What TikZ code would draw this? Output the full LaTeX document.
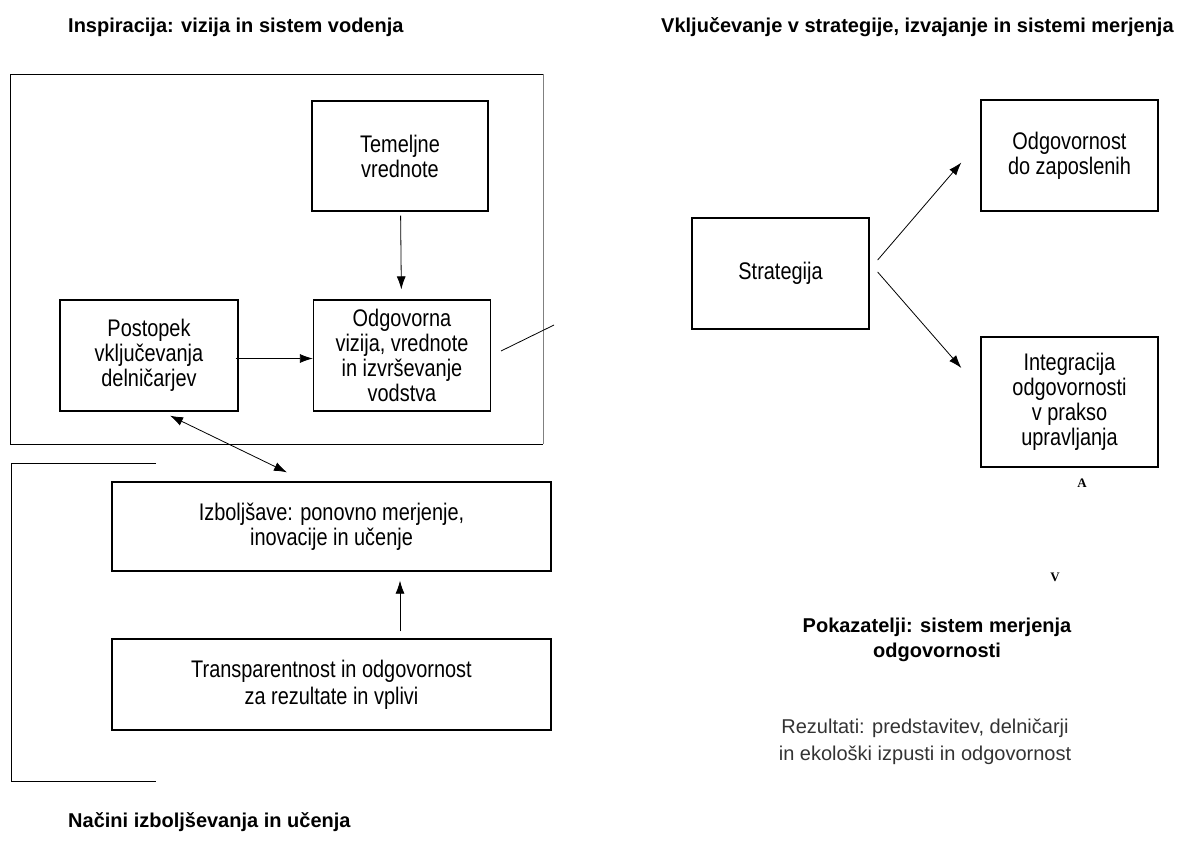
\documentclass[tikz,border=0pt]{standalone}
\usepackage{fontspec}
\setmainfont{Liberation Sans}
\newfontfamily\boxfont[FakeStretch=0.83]{Liberation Sans}
\newfontfamily\markfont{Liberation Serif}
\usetikzlibrary{arrows.meta}

\tikzset{
  box/.style={draw, line width=1.3pt, rectangle, inner sep=0pt, align=center,
    font={\boxfont\fontsize{24}{25}\selectfont}},
  arr/.style={-{Latex[length=13pt,width=9pt]}, line width=0.8pt},
  twoarr/.style={{Latex[length=13pt,width=9pt]}-{Latex[length=13pt,width=9pt]}, line width=0.8pt},
  head/.style={anchor=west, inner sep=0pt, font={\bfseries\fontsize{20}{24}\selectfont}},
  note/.style={align=center, inner sep=0pt, font={\fontsize{20}{27}\selectfont}},
  letterlabel/.style={inner sep=0pt, font={\markfont\bfseries\fontsize{13}{15}\selectfont}},
}

\begin{document}
\begin{tikzpicture}[x=1pt, y=-1pt]
    \useasboundingbox (0,0) rectangle (1180,857);

    \node[head] (h1) at (68,27) {Inspiracija: vizija in sistem vodenja};
    \node[head] (h2) at (661,27) {Vključevanje v strategije, izvajanje in sistemi merjenja};
    \node[head] (h3) at (68,822) {Načini izboljševanja in učenja};

    \draw[line width=0.8pt] (543,74) -- (10,74) -- (10,444) -- (543,444);
    \draw[line width=0.8pt, black!50] (543,74) -- (543,444);
    \draw[line width=0.8pt] (156,463) -- (11,463) -- (11,781) -- (156,781);

    \node[box, minimum width=176pt, minimum height=110pt] (temeljne) at (400,156) {Temeljne\\vrednote};
    \node[box, minimum width=177pt, minimum height=111pt] (odgovorna) at (402,355.5) {Odgovorna\\vizija, vrednote\\in izvrševanje\\vodstva};
    \node[box, minimum width=178pt, minimum height=111pt] (postopek) at (149,355.5) {Postopek\\vključevanja\\delničarjev};
    \node[box, minimum width=439pt, minimum height=89pt] (izboljsave) at (331.5,526.5) {Izboljšave: ponovno merjenje,\\inovacije in učenje};
    \node[box, minimum width=439pt, minimum height=91pt, font={\boxfont\fontsize{24}{27}\selectfont}] (transparentnost) at (331.5,684.5) {Transparentnost in odgovornost\\za rezultate in vplivi};

    \node[box, minimum width=177pt, minimum height=111pt] (strategija) at (780.5,273.5) {Strategija};
    \node[box, minimum width=177pt, minimum height=111pt] (zaposleni) at (1069.5,155.5) {Odgovornost\\do zaposlenih};
    \node[box, minimum width=177pt, minimum height=130pt] (integracija) at (1069.5,402) {Integracija\\odgovornosti\\v prakso\\upravljanja};

    \coordinate (rez) at (501,351);
    \coordinate (rezend) at (554,325);
    \draw[line width=0.8pt] (rez) -- (rezend);

    \draw[arr, shorten <=4pt, shorten >=10pt] (temeljne) -- (odgovorna);
    \draw[arr, shorten <=-3pt] ([yshift=-3pt]postopek.east) -- ([yshift=-3pt]odgovorna.west);
    \draw[twoarr] ([xshift=21pt,yshift=-4pt]postopek.south) -- ([xshift=-44.5pt,yshift=9pt]izboljsave.north);
    \draw[arr] ([xshift=68.5pt,yshift=7pt]transparentnost.north) -- ([xshift=68.5pt,yshift=-9pt]izboljsave.south);
    \draw[arr] ([xshift=8pt,yshift=13.5pt]strategija.east) -- ([xshift=-19pt,yshift=-7pt]zaposleni.west);
    \draw[arr] ([xshift=8pt,yshift=1.5pt]strategija.east) -- ([xshift=-19pt,yshift=34pt]integracija.west);

    \node[letterlabel] (a) at (1082,483) {A};
    \node[letterlabel] (v) at (1055,577) {V};

    \node[note, font={\bfseries\fontsize{20}{25}\selectfont}] (pokazatelji) at (937,640) {Pokazatelji: sistem merjenja\\odgovornosti};
    \node[note, text=black!80] (rezultati) at (925,741.5) {Rezultati: predstavitev, delničarji\\in ekološki izpusti in odgovornost};
\end{tikzpicture}
\end{document}
